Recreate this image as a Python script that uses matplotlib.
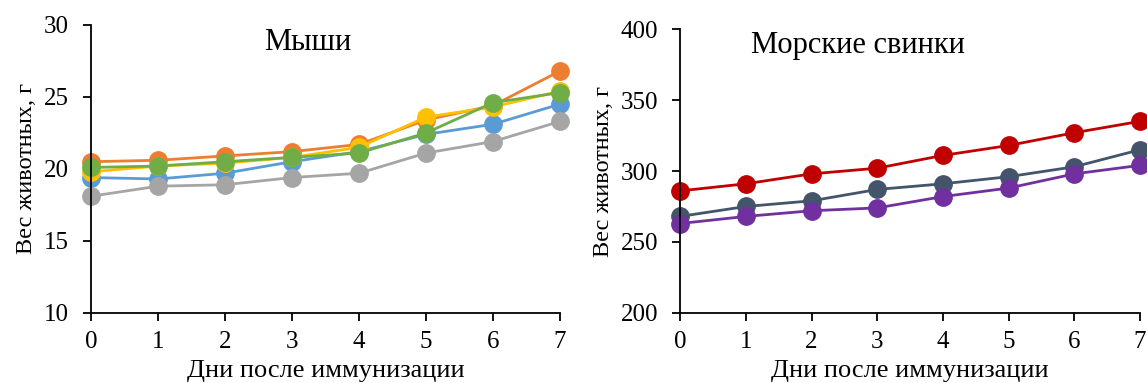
import matplotlib
matplotlib.use("Agg")
import matplotlib.pyplot as plt

plt.rcParams["font.family"] = ["Liberation Serif", "DejaVu Serif"]

days = [0, 1, 2, 3, 4, 5, 6, 7]

# mice groups
mice_blue = [19.4, 19.3, 19.7, 20.5, 21.2, 22.4, 23.1, 24.5]
mice_orange = [20.5, 20.6, 20.9, 21.2, 21.7, 23.4, 24.4, 26.8]
mice_gray = [18.1, 18.8, 18.9, 19.4, 19.7, 21.1, 21.9, 23.3]
mice_yellow = [19.8, 20.2, 20.4, 20.8, 21.5, 23.6, 24.3, 25.4]
mice_green = [20.1, 20.2, 20.5, 20.8, 21.1, 22.5, 24.6, 25.3]

# guinea pig groups
gp_red = [286, 291, 298, 302, 311, 318, 327, 335]
gp_slate = [268, 275, 279, 287, 291, 296, 303, 315]
gp_purple = [263, 268, 272, 274, 282, 288, 298, 304]

fig = plt.figure(figsize=(11.47, 3.83), dpi=100)
ax1 = fig.add_axes([0.0793, 0.183, 0.409, 0.752])
ax2 = fig.add_axes([0.593, 0.183, 0.401, 0.741])

mice = [(mice_blue, "#5B9BD5"), (mice_orange, "#ED7D31"), (mice_gray, "#A5A5A5"),
        (mice_yellow, "#FFC000"), (mice_green, "#70AD47")]
for vals, col in mice:
    ax1.plot(days, vals, color=col, lw=2, marker="o", ms=12.5, clip_on=False)

pigs = [(gp_red, "#C00000"), (gp_slate, "#44546A"), (gp_purple, "#7030A0")]
for vals, col in pigs:
    ax2.plot(days, vals, color=col, lw=2, marker="o", ms=12.5, clip_on=False)

ax1.set_ylim(10, 30)
ax1.set_yticks([10, 15, 20, 25, 30])
ax2.set_ylim(200, 400)
ax2.set_yticks([200, 250, 300, 350, 400])

for ax in (ax1, ax2):
    ax.set_xlim(0, 7)
    ax.set_xticks(days)
    for s in ("top", "right"):
        ax.spines[s].set_visible(False)
    for s in ("left", "bottom"):
        ax.spines[s].set_linewidth(1.3)
    ax.tick_params(direction="out", length=6, width=1.3, labelsize=18)
    ax.tick_params(axis="y", pad=10)
    ax.tick_params(axis="x", pad=7)
    ax.set_xlabel("Дни после иммунизации", fontsize=19, labelpad=5)
    ax.set_ylabel("Вес животных, г", fontsize=17.5, labelpad=5)

ax1.text(0.463, 0.94, "Мыши", transform=ax1.transAxes, ha="center", va="center", fontsize=22)
ax2.text(0.387, 0.944, "Морские свинки", transform=ax2.transAxes, ha="center", va="center", fontsize=22)

fig.savefig("out.png", dpi=100)
